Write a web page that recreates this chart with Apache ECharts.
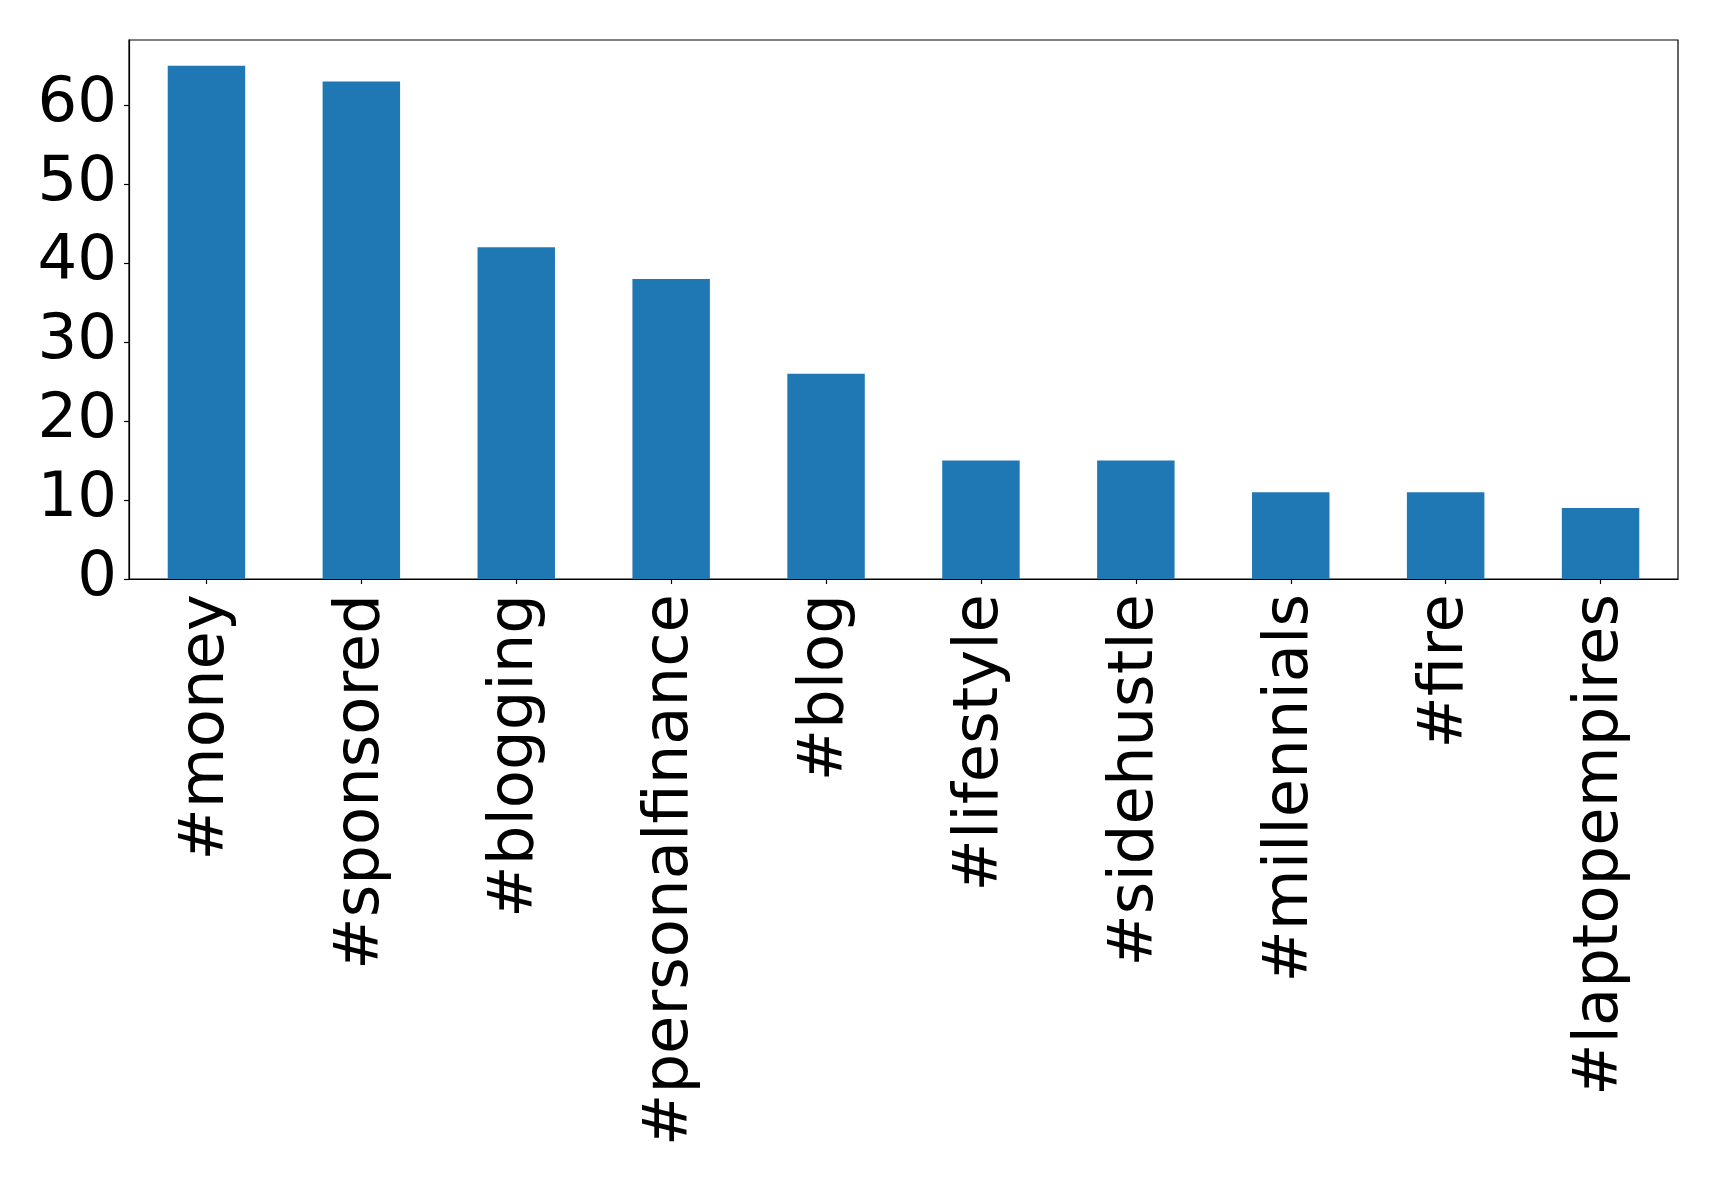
<!DOCTYPE html>
<html>
<head>
<meta charset="utf-8">
<script src="https://cdn.jsdelivr.net/npm/echarts@6/dist/echarts.min.js"></script>
<style>html,body{margin:0;padding:0;background:#fff;}#c{width:1719px;height:1180px;}</style>
</head>
<body>
<div id="c"></div>
<script>
const categories = ['#money', '#sponsored', '#blogging', '#personalfinance', '#blog', '#lifestyle', '#sidehustle', '#millennials', '#fire', '#laptopempires'];
const counts = [65, 63, 42, 38, 26, 15, 15, 11, 11, 9];
const yTicks = [0, 10, 20, 30, 40, 50, 60];

const chart = echarts.init(document.getElementById('c'), null, {renderer: 'canvas'});
chart.setOption({
  animation: false,
  backgroundColor: '#ffffff',
  grid: {
    left: 129, right: 41, top: 40, bottom: 601,
    show: true, borderColor: '#000', borderWidth: 1.2, backgroundColor: 'transparent'
  },
  xAxis: {
    type: 'category',
    data: categories,
    axisLine: {show: true, lineStyle: {color: '#000', width: 1.2}},
    axisTick: {show: true, alignWithLabel: true, length: 5, lineStyle: {color: '#000', width: 1.2}},
    axisLabel: {
      rotate: 90, fontFamily: 'DejaVu Sans', fontSize: 62.5, color: '#000', margin: 15, interval: 0
    },
    splitLine: {show: false}
  },
  yAxis: {
    type: 'value',
    min: 0, max: 68.25, interval: 10,
    axisLine: {show: true, lineStyle: {color: '#000', width: 1.2}},
    axisTick: {show: true, length: 5, customValues: yTicks, lineStyle: {color: '#000', width: 1.2}},
    axisLabel: {
      fontFamily: 'DejaVu Sans', fontSize: 62.5, color: '#000', margin: 12,
      customValues: yTicks
    },
    splitLine: {show: false}
  },
  series: [{
    type: 'bar',
    data: counts,
    barWidth: '50%',
    itemStyle: {color: '#1f77b4'}
  }]
});
</script>
</body>
</html>
